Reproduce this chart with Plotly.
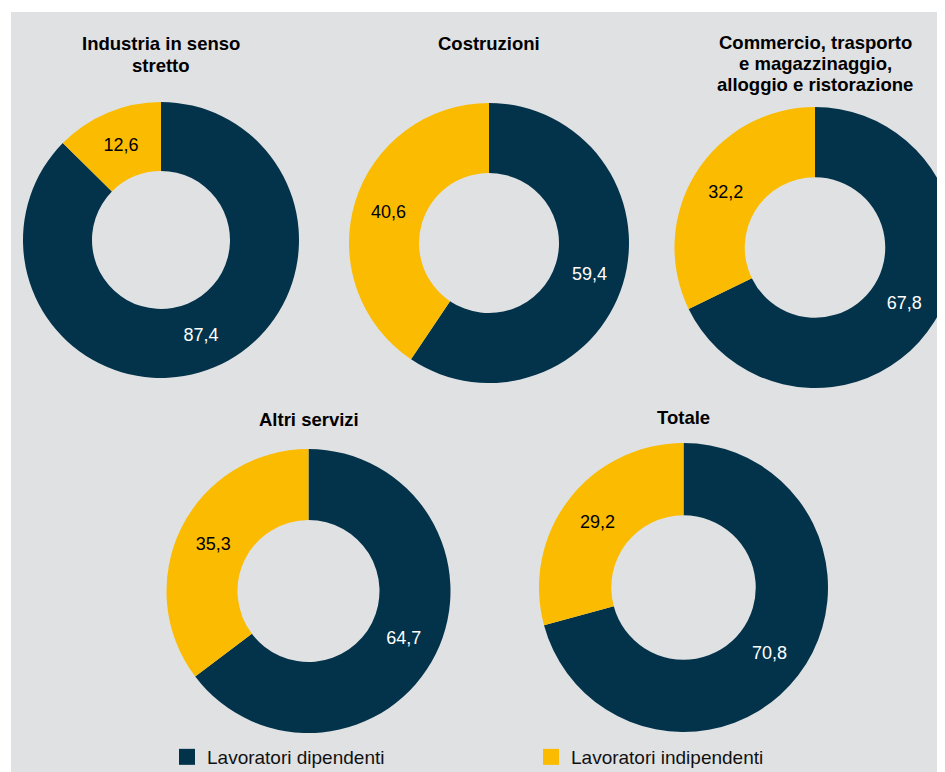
import plotly.graph_objects as go

# the page body adds an 8 px margin; all positions below are paper pixels
W, H = 952, 772
OFF = 8

labels = ["Lavoratori dipendenti", "Lavoratori indipendenti"]
sectors = [
    ["Industria in senso", "stretto"],
    ["Costruzioni"],
    ["Commercio, trasporto", "e magazzinaggio,", "alloggio e ristorazione"],
    ["Altri servizi"],
    ["Totale"],
]
dipendenti = [87.4, 59.4, 67.8, 64.7, 70.8]
indipendenti = [12.6, 40.6, 32.2, 35.3, 29.2]
colors = ["#03334A", "#FABB00"]

# screen geometry: centre x, centre y, radius, title line centres
geom = [
    (161, 240, 138, [44, 65]),
    (489, 243, 140, [43]),
    (815, 247.5, 140.5, [42, 63, 84]),
    (308.5, 591, 142, [419]),
    (683.5, 587.5, 144.5, [417]),
]


def px(x):
    return (x - OFF) / W


def py(y):
    return 1 - (y - OFF) / H


fig = go.Figure()
for i, (cx, cy, r, tys) in enumerate(geom):
    fig.add_trace(go.Pie(
        labels=labels,
        values=[dipendenti[i], indipendenti[i]],
        hole=0.5,
        sort=False,
        direction="clockwise",
        rotation=0,
        marker=dict(colors=colors, line=dict(width=0)),
        texttemplate="%{value:.1f}",
        textposition="inside",
        insidetextorientation="horizontal",
        insidetextfont=dict(color=["white", "black"], size=18,
                            family="Liberation Sans, Arial, sans-serif"),
        domain=dict(x=[max(0, px(cx - r)), min(1, px(cx + r))],
                    y=[max(0, py(cy + r)), min(1, py(cy - r))]),
        showlegend=False,
    ))
    for line, ty in zip(sectors[i], tys):
        fig.add_annotation(
            x=px(cx), y=py(ty),
            xref="paper", yref="paper",
            text="<b>%s</b>" % line, showarrow=False,
            xanchor="center", yanchor="middle",
            font=dict(size=18.5, color="black",
                      family="Liberation Sans, Arial, sans-serif"),
        )

# legend entries
for lab, col in zip(labels, colors):
    fig.add_trace(go.Scatter(
        x=[None], y=[None], mode="markers", name=lab,
        marker=dict(symbol="square", size=17, color=col),
        showlegend=True,
    ))

fig.update_layout(
    width=W, height=H,
    margin=dict(l=0, r=0, t=0, b=0),
    paper_bgcolor="white",
    plot_bgcolor="rgba(0,0,0,0)",
    separators=",.",
    xaxis=dict(visible=False),
    yaxis=dict(visible=False),
    shapes=[dict(type="rect", xref="paper", yref="paper",
                 x0=px(11), x1=1, y0=0, y1=py(12),
                 fillcolor="#E0E1E3", line=dict(width=0), layer="below")],
    legend=dict(
        orientation="h", x=px(167), y=py(757),
        xanchor="left", yanchor="middle",
        entrywidth=319, entrywidthmode="pixels",
        bgcolor="rgba(0,0,0,0)",
        font=dict(size=19, color="#111111",
                  family="Liberation Sans, Arial, sans-serif"),
    ),
    font=dict(family="Liberation Sans, Arial, sans-serif"),
)

fig.write_html("out.html")
